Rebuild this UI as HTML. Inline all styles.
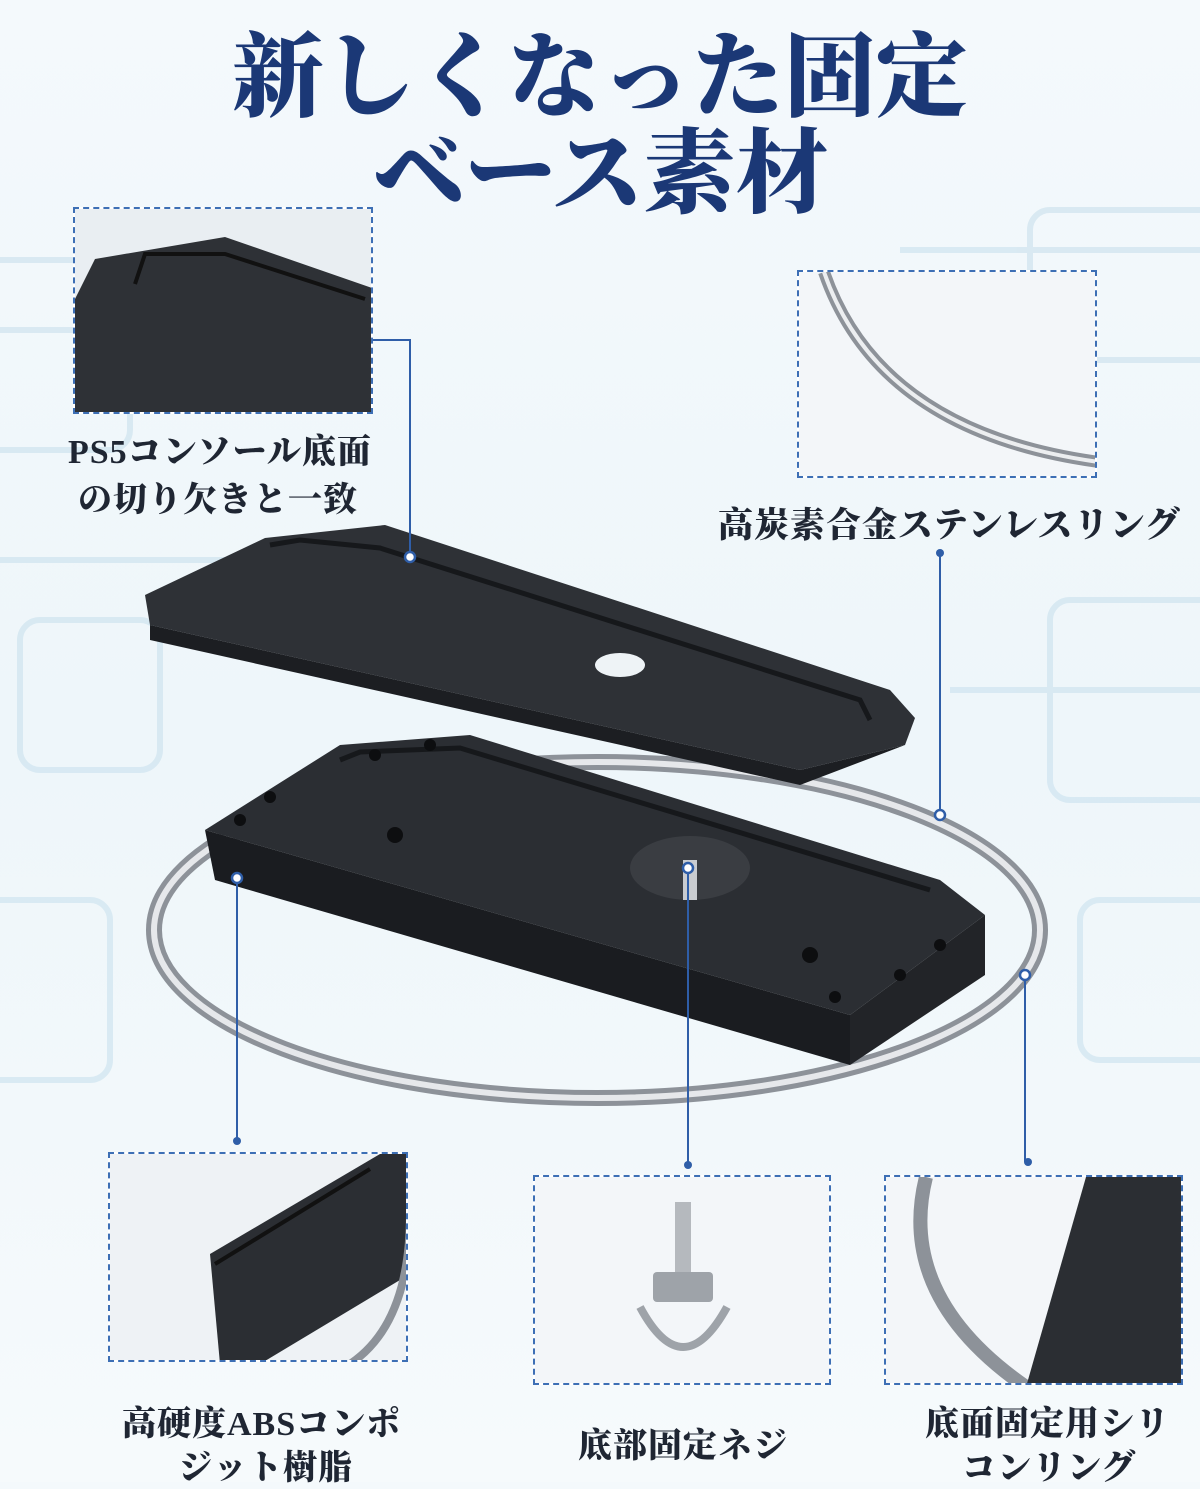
<!DOCTYPE html>
<html><head><meta charset="utf-8">
<style>
html,body{margin:0;padding:0}
body{width:1200px;height:1482px;position:relative;overflow:hidden;background:linear-gradient(180deg,#f4f9fc 0%,#eef6fa 50%,#f6fafc 100%);font-family:"Liberation Serif","Noto Serif CJK SC",serif}
.t{position:absolute;color:#1b3876;font-weight:900;white-space:nowrap;font-family:"Liberation Serif","Noto Serif CJK SC","Noto Sans CJK JP",serif}
.box{position:absolute;border:2px dashed #3d6fb5;background:#fff;box-sizing:border-box;overflow:hidden}
.lab{position:absolute;color:#1f2633;font-weight:900;font-size:34px;white-space:nowrap;font-family:"Liberation Serif","Noto Serif CJK SC",serif;letter-spacing:1px}
</style></head><body>
<svg width="1200" height="1482" style="position:absolute;left:0;top:0">
<g fill="none" stroke="#cfe4ef" stroke-width="6" opacity="0.7">
<rect x="-20" y="330" width="150" height="120" rx="20"/>
<rect x="20" y="620" width="140" height="150" rx="20"/>
<rect x="1030" y="210" width="200" height="150" rx="20"/>
<rect x="1050" y="600" width="180" height="200" rx="20"/>
<rect x="-30" y="900" width="140" height="180" rx="20"/>
<rect x="1080" y="900" width="150" height="160" rx="20"/>
<path d="M0 260 H300 M900 250 H1200 M0 560 H250 M950 690 H1200"/>
</g>
<!-- ring -->
<ellipse cx="597" cy="930" rx="443" ry="168" fill="none" stroke="#8d9299" stroke-width="16"/>
<ellipse cx="597" cy="930" rx="443" ry="168" fill="none" stroke="#e6e8eb" stroke-width="6"/>
<!-- top plate -->
<polygon points="145,595 265,538 385,525 890,690 915,718 905,745 800,770 150,625" fill="#2e3136"/>
<polygon points="150,625 800,770 905,745 800,785 150,640" fill="#1c1e22"/>
<path d="M270 545 L300 540 L380 548 L860 700 L870 720" stroke="#16181b" stroke-width="5" fill="none"/>
<ellipse cx="620" cy="665" rx="25" ry="12" fill="#eef3f6"/>
<!-- bottom plate -->
<polygon points="205,830 340,745 470,735 940,880 985,915 850,1015" fill="#2b2e33"/>
<polygon points="205,830 850,1015 850,1065 215,880" fill="#1a1c20"/>
<polygon points="850,1015 985,915 985,975 850,1065" fill="#222428"/>
<path d="M340 760 L360 752 L460 748 L930 890" stroke="#16181b" stroke-width="5" fill="none"/>
<ellipse cx="690" cy="868" rx="60" ry="32" fill="#3a3d42"/>
<rect x="683" y="860" width="14" height="40" fill="#c9ccd0"/>
<g fill="#0d0e10"><circle cx="375" cy="755" r="6"/><circle cx="430" cy="745" r="6"/><circle cx="270" cy="797" r="6"/><circle cx="240" cy="820" r="6"/><circle cx="940" cy="945" r="6"/><circle cx="900" cy="975" r="6"/><circle cx="835" cy="997" r="6"/><circle cx="395" cy="835" r="8"/><circle cx="810" cy="955" r="8"/></g>
<!-- connectors -->
<g stroke="#2f5ea8" stroke-width="2" fill="none">
<path d="M362 340 H410 V557"/>
<path d="M940 815 V553"/>
<path d="M237 878 V1140"/>
<path d="M688 868 V1165"/>
<path d="M1025 975 V1162"/>
</g>
<g fill="#fff" stroke="#2f5ea8" stroke-width="2.5">
<circle cx="410" cy="557" r="5"/><circle cx="940" cy="815" r="5"/><circle cx="237" cy="878" r="5"/><circle cx="688" cy="868" r="5"/><circle cx="1025" cy="975" r="5"/>
</g>
<g fill="#2f5ea8"><circle cx="237" cy="1141" r="4"/><circle cx="688" cy="1165" r="4"/><circle cx="1028" cy="1162" r="4"/><circle cx="940" cy="553" r="4"/><circle cx="362" cy="340" r="4"/></g>
</svg>

<div class="t" style="left:0;width:1200px;text-align:center;top:28px;font-size:92px;line-height:100px">新しくなった固定</div>
<div class="t" style="left:0;width:1200px;text-align:center;top:124px;font-size:92px;line-height:100px">ベース素材</div>

<div class="box" style="left:73px;top:207px;width:300px;height:207px">
<svg width="300" height="207"><rect width="300" height="207" fill="#e9eef2"/><polygon points="20,50 150,28 300,80 300,207 0,207 0,90" fill="#2e3136"/><path d="M60 75 L70 45 L150 45 L290 90" stroke="#111" stroke-width="4" fill="none"/></svg>
</div>
<div class="box" style="left:797px;top:270px;width:300px;height:208px">
<svg width="300" height="208"><rect width="300" height="208" fill="#f3f6f9"/><path d="M25 0 Q80 160 300 190" stroke="#8d9299" stroke-width="12" fill="none"/><path d="M25 0 Q80 160 300 190" stroke="#eceef0" stroke-width="4" fill="none"/></svg>
</div>
<div class="box" style="left:108px;top:1152px;width:300px;height:210px">
<svg width="300" height="210"><rect width="300" height="210" fill="#eef2f5"/><polygon points="100,100 270,0 300,0 300,120 150,210 110,210" fill="#2b2e33"/><path d="M105 110 L260 15" stroke="#111" stroke-width="4"/><path d="M240 210 Q300 170 300 60" stroke="#8d9299" stroke-width="8" fill="none"/></svg>
</div>
<div class="box" style="left:533px;top:1175px;width:298px;height:210px">
<svg width="298" height="210"><rect width="298" height="210" fill="#f3f6f9"/><rect x="140" y="25" width="16" height="75" fill="#b5b9be"/><rect x="118" y="95" width="60" height="30" rx="4" fill="#9ea3a9"/><path d="M105 130 Q148 210 192 130" stroke="#9ea3a9" stroke-width="8" fill="none"/></svg>
</div>
<div class="box" style="left:884px;top:1175px;width:299px;height:210px">
<svg width="299" height="210"><rect width="299" height="210" fill="#f3f6f9"/><path d="M40 0 Q10 120 140 210" stroke="#8d9299" stroke-width="14" fill="none"/><polygon points="200,0 299,0 299,210 140,210" fill="#2b2e33"/></svg>
</div>

<div class="lab" style="left:68px;top:424px">PS5コンソール底面</div>
<div class="lab" style="left:78px;top:472px">の切り欠きと一致</div>
<div class="lab" style="left:718px;top:498px;font-size:35px">高炭素合金ステンレスリング</div>
<div class="lab" style="left:122px;top:1396px">高硬度ABSコンポ</div>
<div class="lab" style="left:178px;top:1440px">ジット樹脂</div>
<div class="lab" style="left:578px;top:1418px">底部固定ネジ</div>
<div class="lab" style="left:925px;top:1396px">底面固定用シリ</div>
<div class="lab" style="left:962px;top:1440px">コンリング</div>
</body></html>
